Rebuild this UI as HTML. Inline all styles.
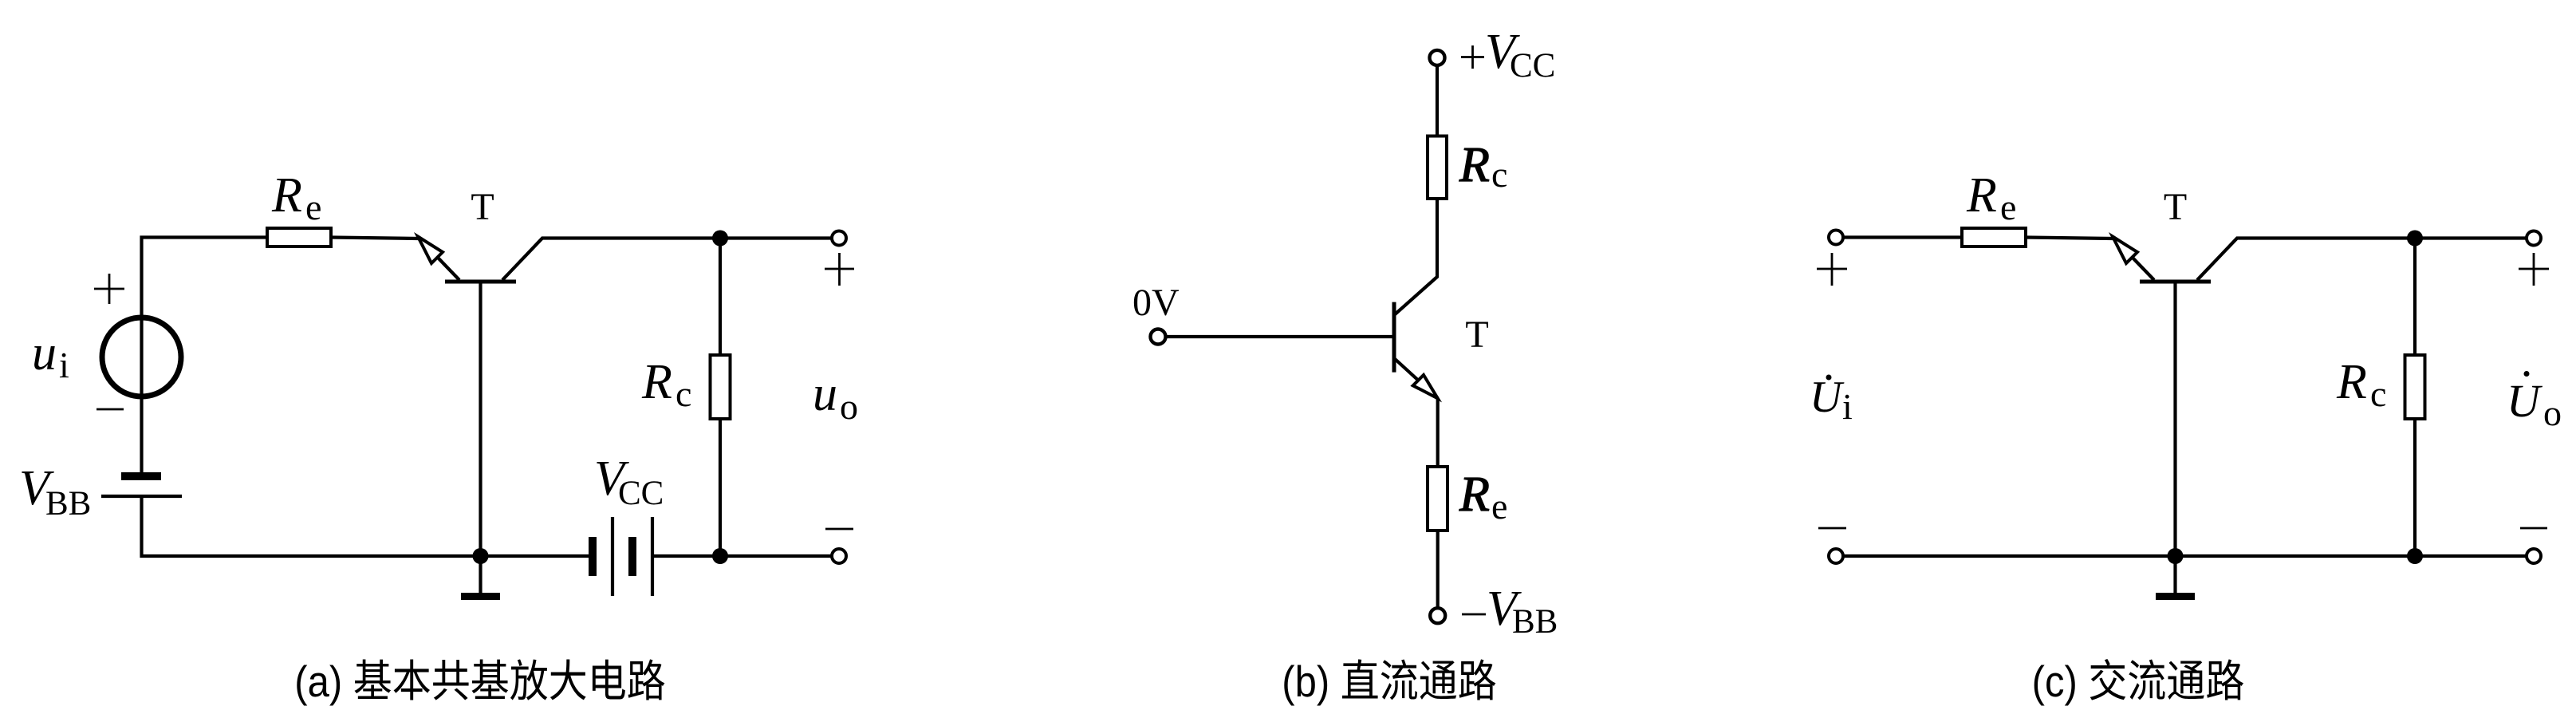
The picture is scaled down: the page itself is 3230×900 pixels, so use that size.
<!DOCTYPE html>
<html>
<head>
<meta charset="utf-8">
<style>
html,body{margin:0;padding:0;background:#fff;}
svg{display:block;}
.v{font-family:"Liberation Serif",serif;font-style:italic;font-size:62px;fill:#000;}
.vb{font-family:"Liberation Serif",serif;font-style:italic;font-size:62px;fill:#000;stroke:#000;stroke-width:1.3;}
.s{font-family:"Liberation Serif",serif;font-size:46px;fill:#000;}
.S{font-family:"Liberation Serif",serif;font-size:43px;fill:#000;}
.t{font-family:"Liberation Serif",serif;font-size:48px;fill:#000;}
.cap{font-family:"Liberation Sans","Noto Sans CJK SC",sans-serif;font-size:49px;fill:#000;}
</style>
</head>
<body>
<svg width="3230" height="900" viewBox="0 0 3230 900" xmlns="http://www.w3.org/2000/svg">
<rect width="3230" height="900" fill="#fff"/>

<!-- ================= (a) ================= -->
<g stroke="#000" stroke-width="4.2" fill="none" stroke-linejoin="miter">
  <polyline points="335,297.5 177.5,297.5 177.5,592"/>
  <polyline points="177.5,622 177.5,697 738,697"/>
  <rect x="335" y="286" width="80" height="23" stroke-width="4"/>
  <line x1="415" y1="297.5" x2="525" y2="299"/>
  <line x1="525" y1="298" x2="576" y2="351"/>
  <polygon points="524,296.5 555,316 541,330" fill="#fff" stroke-width="4"/>
  <line x1="558" y1="353" x2="647" y2="353" stroke-width="5"/>
  <line x1="602.5" y1="353" x2="602.5" y2="745"/>
  <polyline points="630,351 680,298.5 1052,298.5"/>
  <line x1="903" y1="298.5" x2="903" y2="445"/>
  <rect x="890.5" y="445" width="25" height="80" stroke-width="4"/>
  <line x1="903" y1="525" x2="903" y2="697"/>
  <line x1="818" y1="697" x2="1052" y2="697"/>
  <line x1="768" y1="648" x2="768" y2="747"/>
  <line x1="818" y1="648" x2="818" y2="747"/>
  <line x1="127" y1="622" x2="228" y2="622"/>
  <circle cx="177.5" cy="447.5" r="49.5" stroke-width="7"/>
  <circle cx="1052" cy="298.5" r="9" fill="#fff" stroke-width="4"/>
  <circle cx="1052" cy="697" r="9" fill="#fff" stroke-width="4"/>
  <g stroke-width="2.8">
    <line x1="118" y1="362" x2="156" y2="362"/><line x1="137" y1="343" x2="137" y2="381"/>
    <line x1="121" y1="513" x2="155" y2="513"/>
    <line x1="1034" y1="337" x2="1071" y2="337"/><line x1="1052.5" y1="317" x2="1052.5" y2="358"/>
    <line x1="1035" y1="663" x2="1070" y2="663"/>
  </g>
</g>
<g fill="#000">
  <rect x="578" y="743" width="49" height="9"/>
  <rect x="738" y="673" width="10" height="49"/>
  <rect x="788" y="673" width="10" height="49"/>
  <rect x="152" y="592" width="50" height="10"/>
  <circle cx="903" cy="298.5" r="10"/>
  <circle cx="602.5" cy="697" r="10"/>
  <circle cx="903" cy="697" r="10"/>
</g>
<text class="v" x="341" y="265">R</text><text class="s" x="383" y="275">e</text>
<text class="t" x="605" y="275" text-anchor="middle">T</text>
<text class="v" x="40" y="463">u</text><text class="s" x="74" y="473">i</text>
<text class="v" x="24" y="632">V</text><text class="S" x="57" y="645">BB</text>
<text class="v" x="805" y="499">R</text><text class="s" x="847" y="509">c</text>
<text class="v" x="1019" y="514">u</text><text class="s" x="1053" y="525">o</text>
<text class="v" x="745" y="620">V</text><text class="S" x="775" y="632">CC</text>
<text class="cap" transform="translate(602,873) scale(1,1.12)" text-anchor="middle">(a) 基本共基放大电路</text>

<!-- ================= (b) ================= -->
<g stroke="#000" stroke-width="4.2" fill="none">
  <line x1="1802" y1="72.4" x2="1802" y2="170.5"/>
  <rect x="1790" y="170.5" width="24" height="78.5" stroke-width="4"/>
  <polyline points="1802,249 1802,347 1748,395"/>
  <line x1="1748" y1="378.6" x2="1748" y2="466.6" stroke-width="5"/>
  <line x1="1452" y1="422" x2="1748" y2="422"/>
  <line x1="1748" y1="449" x2="1802.7" y2="499"/>
  <polygon points="1802.7,499.3 1771.7,483.3 1785,470" fill="#fff" stroke-width="4"/>
  <line x1="1802.7" y1="499" x2="1802.7" y2="585"/>
  <rect x="1790" y="585" width="25" height="80" stroke-width="4"/>
  <line x1="1802.7" y1="665" x2="1802.7" y2="771.7"/>
  <circle cx="1802" cy="72.4" r="9.5" fill="#fff" stroke-width="4.4"/>
  <circle cx="1452" cy="422" r="9.5" fill="#fff" stroke-width="4.4"/>
  <circle cx="1802.7" cy="771.7" r="9.5" fill="#fff" stroke-width="4.4"/>
  <g stroke-width="2.8">
    <line x1="1832" y1="71.5" x2="1861" y2="71.5"/><line x1="1846.5" y1="57" x2="1846.5" y2="86"/>
    <line x1="1833" y1="770" x2="1863" y2="770"/>
  </g>
</g>
<text class="v" x="1862" y="85">V</text><text class="S" x="1893" y="96">CC</text>
<text class="vb" x="1830" y="227">R</text><text class="s" x="1870" y="234">c</text>
<text class="t" x="1852" y="435" text-anchor="middle">T</text>
<text class="t" x="1420" y="395">0V</text>
<text class="vb" x="1830" y="640">R</text><text class="s" x="1870" y="650">e</text>
<text class="v" x="1864" y="783">V</text><text class="S" x="1896" y="793">BB</text>
<text class="cap" transform="translate(1742,873) scale(1,1.12)" text-anchor="middle">(b) 直流通路</text>

<!-- ================= (c) ================= -->
<g transform="translate(2125,0)">
<g stroke="#000" stroke-width="4.2" fill="none">
  <line x1="177" y1="297.5" x2="335" y2="297.5"/>
  <rect x="335" y="286" width="80" height="23" stroke-width="4"/>
  <line x1="415" y1="297.5" x2="525" y2="299"/>
  <line x1="525" y1="298" x2="576" y2="351"/>
  <polygon points="524,296.5 555,316 541,330" fill="#fff" stroke-width="4"/>
  <line x1="558" y1="353" x2="647" y2="353" stroke-width="5"/>
  <line x1="602.5" y1="353" x2="602.5" y2="745"/>
  <polyline points="630,351 680,298.5 1052,298.5"/>
  <line x1="903" y1="298.5" x2="903" y2="445"/>
  <rect x="890.5" y="445" width="25" height="80" stroke-width="4"/>
  <line x1="903" y1="525" x2="903" y2="697"/>
  <line x1="177" y1="697" x2="1052" y2="697"/>
  <circle cx="177" cy="297.5" r="9" fill="#fff" stroke-width="4"/>
  <circle cx="177" cy="697" r="9" fill="#fff" stroke-width="4"/>
  <circle cx="1052" cy="298.5" r="9" fill="#fff" stroke-width="4"/>
  <circle cx="1052" cy="697" r="9" fill="#fff" stroke-width="4"/>
  <g stroke-width="2.8">
    <line x1="153" y1="337" x2="191" y2="337"/><line x1="172" y1="317" x2="172" y2="358"/>
    <line x1="155" y1="662" x2="190" y2="662"/>
    <line x1="1033" y1="337" x2="1071" y2="337"/><line x1="1052" y1="317" x2="1052" y2="358"/>
    <line x1="1035" y1="662" x2="1069" y2="662"/>
  </g>
</g>
<g fill="#000">
  <rect x="578" y="743" width="49" height="9"/>
  <circle cx="903" cy="298.5" r="10"/>
  <circle cx="602.5" cy="697" r="10"/>
  <circle cx="903" cy="697" r="10"/>
  <circle cx="168" cy="473" r="3.5"/>
  <circle cx="1043" cy="468.5" r="3.5"/>
</g>
<text class="v" x="341" y="265">R</text><text class="s" x="383" y="275">e</text>
<text class="t" x="602.5" y="275" text-anchor="middle">T</text>
<text class="v" x="805" y="499">R</text><text class="s" x="847" y="509">c</text>
<text class="v" x="144" y="516" style="font-size:56px">U</text><text class="s" x="185" y="525">i</text>
<text class="v" x="1018" y="522" style="font-size:58px">U</text><text class="s" x="1064" y="533">o</text>
</g>
<text class="cap" transform="translate(2681,873) scale(1,1.12)" text-anchor="middle">(c) 交流通路</text>
</svg>
</body>
</html>
